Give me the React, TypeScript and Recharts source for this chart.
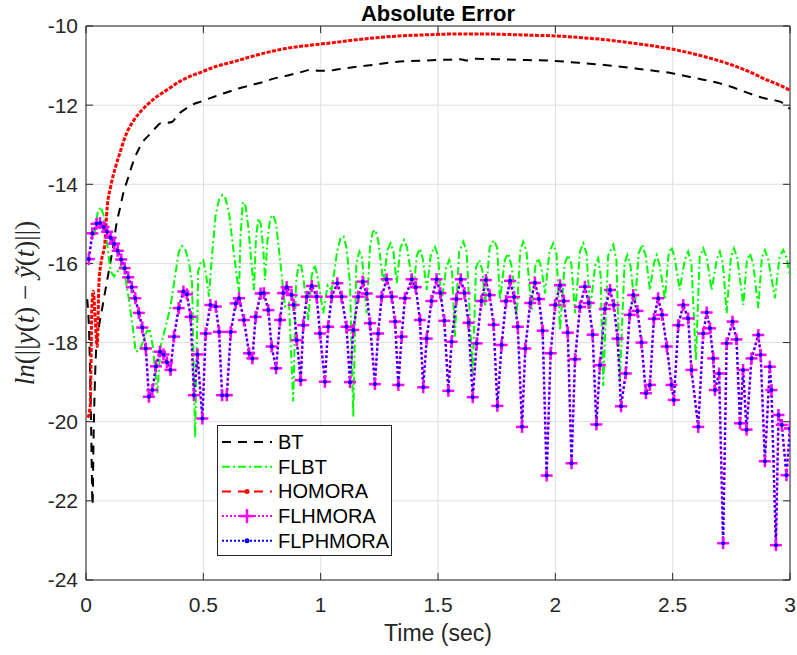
import { LineChart, Line, XAxis, YAxis, CartesianGrid, ReferenceArea, ReferenceLine, Label } from "recharts"

const xTicks = [0, 0.5, 1, 1.5, 2, 2.5, 3]
const yTicks = [-24, -22, -20, -18, -16, -14, -12, -10]

// BT
const btT = [
	0.005, 0.013, 0.022, 0.028, 0.032, 0.037, 0.045, 0.055, 0.07, 0.085,
	0.1, 0.115, 0.13, 0.145, 0.16, 0.176, 0.204, 0.24, 0.276, 0.3,
	0.318, 0.345, 0.368, 0.39, 0.418, 0.45, 0.489, 0.54, 0.588, 0.65,
	0.7, 0.758, 0.8, 0.86, 0.92, 0.954, 0.99, 1.026, 1.1, 1.2,
	1.338, 1.45, 1.55, 1.594, 1.62, 1.66, 1.764, 1.88, 1.991, 2.1,
	2.219, 2.35, 2.502, 2.6, 2.701, 2.78, 2.843, 2.9, 2.928, 2.96,
	2.985, 3.0,
]
const btY = [
	-16.9, -17.7, -20.2, -22.1, -20.5, -19.2, -18.0, -17.6, -17.1, -16.6,
	-16.1, -15.6, -15.0, -14.6, -14.2, -13.9, -13.39, -12.95, -12.71, -12.55,
	-12.46, -12.45, -12.42, -12.25, -12.12, -12.0, -11.91, -11.8, -11.7, -11.58,
	-11.5, -11.41, -11.33, -11.25, -11.16, -11.11, -11.13, -11.13, -11.07, -11.0,
	-10.9, -10.87, -10.85, -10.84, -10.87, -10.83, -10.84, -10.86, -10.88, -10.93,
	-10.99, -11.08, -11.2, -11.32, -11.45, -11.6, -11.74, -11.84, -11.87, -11.92,
	-12.02, -12.1,
]

// FLBT
const flbtT = [
	0.035, 0.05, 0.063, 0.076, 0.09, 0.105, 0.12, 0.135, 0.15, 0.165,
	0.18, 0.197, 0.212, 0.228, 0.245, 0.26, 0.272, 0.285, 0.304, 0.318,
	0.339, 0.36, 0.38, 0.395, 0.408, 0.422, 0.438, 0.452, 0.465, 0.478,
	0.49, 0.5, 0.512, 0.524, 0.537, 0.552, 0.567, 0.581, 0.595, 0.61,
	0.625, 0.652, 0.658, 0.668, 0.68, 0.692, 0.705, 0.716, 0.724, 0.734,
	0.745, 0.755, 0.763, 0.772, 0.785, 0.798, 0.81, 0.825, 0.848, 0.865,
	0.883, 0.895, 0.905, 0.915, 0.927, 0.947, 0.962, 0.974, 0.986, 1.011,
	1.03, 1.047, 1.07, 1.085, 1.098, 1.11, 1.125, 1.139, 1.152, 1.165,
	1.176, 1.196, 1.21, 1.222, 1.234, 1.246, 1.267, 1.285, 1.298, 1.31,
	1.324, 1.34, 1.355, 1.368, 1.395, 1.41, 1.423, 1.436, 1.452, 1.47,
	1.487, 1.5, 1.515, 1.535, 1.548, 1.56, 1.572, 1.59, 1.608, 1.622,
	1.648, 1.662, 1.676, 1.69, 1.7, 1.72, 1.738, 1.752, 1.764, 1.785,
	1.8, 1.815, 1.835, 1.85, 1.863, 1.877, 1.899, 1.915, 1.927, 1.94,
	1.956, 1.975, 1.991, 2.005, 2.02, 2.04, 2.055, 2.068, 2.084, 2.105,
	2.119, 2.133, 2.148, 2.17, 2.183, 2.193, 2.204, 2.225, 2.247, 2.26,
	2.275, 2.295, 2.307, 2.32, 2.339, 2.355, 2.37, 2.385, 2.403, 2.42,
	2.432, 2.445, 2.467, 2.482, 2.495, 2.508, 2.53, 2.552, 2.566, 2.58,
	2.599, 2.615, 2.63, 2.645, 2.666, 2.688, 2.701, 2.714, 2.73, 2.748,
	2.761, 2.775, 2.801, 2.816, 2.829, 2.843, 2.865, 2.88, 2.893, 2.907,
	2.936, 2.955, 2.971, 2.985, 3.0,
]
const flbtY = [
	-15.3, -14.7, -14.57, -14.8, -15.5, -16.2, -16.33, -16.2, -16.05, -16.25,
	-16.8, -17.51, -18.23, -18.2, -17.95, -17.7, -17.7, -18.1, -19.28, -18.1,
	-17.6, -17.1, -16.3, -15.72, -15.56, -15.62, -15.95, -16.5, -20.4, -16.2,
	-15.95, -15.92, -16.3, -16.84, -15.8, -14.8, -14.38, -14.27, -14.36, -14.75,
	-15.5, -16.76, -15.4, -14.45, -14.55, -15.1, -16.0, -16.67, -15.4, -14.86,
	-15.0, -15.6, -16.42, -15.5, -14.85, -14.78, -15.0, -15.8, -17.09, -17.0,
	-19.49, -16.5, -16.05, -16.0, -16.4, -17.43, -16.3, -16.04, -16.3, -17.26,
	-16.55, -16.67, -15.7, -15.35, -15.32, -15.6, -16.5, -19.87, -16.0, -15.7,
	-15.85, -17.26, -15.6, -15.2, -15.16, -15.45, -16.5, -15.65, -15.49, -15.7,
	-16.5, -15.6, -15.41, -15.6, -16.67, -15.8, -15.62, -15.9, -16.67, -15.75,
	-15.58, -15.8, -17.0, -16.1, -15.91, -16.2, -17.85, -15.7, -15.45, -15.7,
	-18.8, -16.1, -15.91, -16.2, -17.09, -15.6, -15.41, -15.6, -16.92, -15.9,
	-15.75, -16.1, -17.35, -15.7, -15.45, -15.7, -17.18, -16.05, -15.87, -16.1,
	-16.76, -15.7, -15.49, -15.75, -17.68, -16.0, -15.79, -16.0, -17.26, -15.7,
	-15.49, -15.75, -17.18, -16.05, -15.87, -16.3, -19.1, -15.8, -15.53, -15.9,
	-18.95, -16.0, -15.79, -16.05, -17.09, -15.75, -15.52, -15.8, -16.67, -16.0,
	-15.79, -16.05, -16.92, -15.8, -15.58, -15.85, -16.67, -15.9, -15.7, -16.0,
	-18.44, -15.85, -15.62, -15.85, -16.67, -15.9, -15.7, -16.0, -17.26, -15.85,
	-15.62, -15.85, -17.05, -15.95, -15.75, -16.0, -17.13, -15.85, -15.66, -15.9,
	-16.88, -15.85, -15.66, -15.85, -16.33,
]

// HOMORA
const homoraT = [
	0.008, 0.018, 0.025, 0.031, 0.04, 0.048, 0.055, 0.065, 0.08, 0.09,
	0.105, 0.126, 0.145, 0.162, 0.18, 0.204, 0.23, 0.276, 0.31, 0.344,
	0.4, 0.44, 0.489, 0.55, 0.631, 0.7, 0.77, 0.85, 0.95, 1.054,
	1.15, 1.25, 1.338, 1.42, 1.508, 1.6, 1.7, 1.764, 1.88, 1.998,
	2.1, 2.219, 2.3, 2.4, 2.502, 2.6, 2.687, 2.75, 2.8, 2.843,
	2.9, 2.95, 3.0,
]
const homoraY = [
	-19.9, -19.6, -17.1, -16.7, -17.5, -18.1, -16.5, -15.95, -15.5, -14.6,
	-14.06, -13.56, -13.2, -12.88, -12.62, -12.38, -12.18, -11.91, -11.75, -11.62,
	-11.4, -11.28, -11.17, -11.03, -10.9, -10.78, -10.67, -10.57, -10.49, -10.42,
	-10.35, -10.29, -10.25, -10.23, -10.21, -10.2, -10.2, -10.21, -10.23, -10.25,
	-10.29, -10.35, -10.41, -10.49, -10.59, -10.72, -10.86, -10.98, -11.09, -11.2,
	-11.36, -11.48, -11.62,
]

// FLHMORA (FLPHMORA lies on top of it)
const flhmoraT = [
	0.012, 0.027, 0.045, 0.06, 0.075, 0.09, 0.105, 0.12, 0.135, 0.15,
	0.165, 0.18, 0.195, 0.21, 0.225, 0.24, 0.255, 0.268, 0.283, 0.298,
	0.315, 0.33, 0.345, 0.36, 0.375, 0.395, 0.415, 0.43, 0.446, 0.46,
	0.475, 0.496, 0.51, 0.53, 0.553, 0.567, 0.58, 0.6, 0.617, 0.638,
	0.652, 0.673, 0.695, 0.709, 0.723, 0.744, 0.758, 0.777, 0.791, 0.81,
	0.827, 0.84, 0.855, 0.876, 0.885, 0.898, 0.915, 0.926, 0.941, 0.962,
	0.983, 0.997, 1.018, 1.032, 1.047, 1.071, 1.089, 1.11, 1.125, 1.139,
	1.16, 1.179, 1.196, 1.21, 1.231, 1.245, 1.26, 1.281, 1.303, 1.317,
	1.331, 1.345, 1.359, 1.388, 1.405, 1.423, 1.437, 1.452, 1.472, 1.494,
	1.51, 1.527, 1.544, 1.558, 1.578, 1.597, 1.613, 1.63, 1.648, 1.665,
	1.685, 1.704, 1.72, 1.737, 1.753, 1.771, 1.79, 1.807, 1.824, 1.84,
	1.858, 1.872, 1.893, 1.913, 1.93, 1.946, 1.963, 1.98, 1.999, 2.02,
	2.036, 2.053, 2.069, 2.084, 2.105, 2.126, 2.142, 2.159, 2.175, 2.19,
	2.211, 2.233, 2.249, 2.265, 2.28, 2.3, 2.317, 2.332, 2.35, 2.367,
	2.386, 2.403, 2.42, 2.438, 2.455, 2.475, 2.495, 2.505, 2.524, 2.545,
	2.566, 2.58, 2.609, 2.63, 2.645, 2.659, 2.673, 2.68, 2.698, 2.715,
	2.73, 2.755, 2.772, 2.787, 2.8, 2.815, 2.836, 2.865, 2.875, 2.893,
	2.914, 2.921, 2.94, 2.951, 2.965, 2.985, 3.0,
]
const flhmoraY = [
	-15.89, -15.24, -15.0, -14.98, -15.08, -15.2, -15.35, -15.5, -15.68, -15.9,
	-16.12, -16.35, -16.6, -16.88, -17.25, -17.62, -18.15, -19.37, -19.2, -18.6,
	-18.23, -18.3, -18.5, -18.69, -17.85, -17.13, -16.71, -16.78, -17.35, -19.33,
	-18.3, -19.92, -17.77, -17.05, -17.09, -17.73, -19.33, -19.33, -17.73, -17.01,
	-16.88, -17.43, -18.27, -18.4, -17.35, -16.76, -16.75, -17.18, -18.1, -18.65,
	-17.43, -16.75, -16.6, -16.8, -17.05, -17.94, -18.95, -17.56, -16.84, -16.57,
	-16.84, -17.77, -18.99, -17.6, -16.84, -16.5, -16.84, -17.6, -19.0, -17.68,
	-16.84, -16.46, -16.76, -17.51, -19.05, -17.77, -16.84, -16.4, -16.84, -17.47,
	-19.07, -17.85, -16.88, -16.4, -16.6, -17.43, -19.13, -17.9, -16.95, -16.4,
	-16.75, -17.45, -19.22, -17.98, -16.9, -16.4, -16.75, -17.5, -19.38, -18.02,
	-16.95, -16.42, -16.8, -17.55, -19.6, -18.06, -16.95, -16.44, -16.85, -17.6,
	-20.13, -18.15, -17.0, -16.49, -16.9, -17.7, -21.36, -18.27, -17.05, -16.55,
	-16.95, -17.75, -21.05, -18.42, -17.1, -16.59, -17.0, -17.8, -20.07, -18.57,
	-17.15, -16.67, -17.05, -17.9, -19.61, -18.78, -17.3, -16.8, -17.2, -18.0,
	-19.28, -19.07, -17.4, -16.88, -17.3, -18.1, -19.07, -19.45, -17.56, -17.05,
	-17.39, -18.69, -20.13, -17.77, -17.24, -17.64, -18.4, -19.2, -18.78, -23.07,
	-18.02, -17.47, -17.92, -20.04, -18.69, -20.2, -18.4, -17.81, -18.31, -21.0,
	-18.61, -19.2, -23.12, -19.83, -20.08, -21.35, -20.17,
]
const flphmoraT = flhmoraT
const flphmoraY = flhmoraY

const toRows = (t: number[], y: number[]) => t.map((v, i) => ({ t: v, y: y[i] }))

const sans = "'Liberation Sans', Arial, Helvetica, sans-serif"
const axisColor = "#262626"

function PlusDot(props: any) {
	const { cx, cy, index } = props
	if (cx == null || cy == null) return null
	return (
		<g key={`plus-${index}`}>
			<line x1={cx - 6} x2={cx + 6} y1={cy} y2={cy} stroke="#ff00ff" strokeWidth={2.5} />
			<line x1={cx} x2={cx} y1={cy - 6} y2={cy + 6} stroke="#ff00ff" strokeWidth={2.5} />
		</g>
	)
}

const legendItems = [
	{ name: "BT", color: "#000000", dash: "9 7", marker: "none" },
	{ name: "FLBT", color: "#00ff00", dash: "8 3 2 3", marker: "none" },
	{ name: "HOMORA", color: "#ff0000", dash: "9 7", marker: "dot" },
	{ name: "FLHMORA", color: "#ff00ff", dash: "2 2", marker: "plus" },
	{ name: "FLPHMORA", color: "#0000ff", dash: "2 2", marker: "dot" },
]

export default function App() {
	return (
		<div style={{ position: "absolute", left: 0, top: 0, width: 797, height: 655, background: "#fff" }}>
			<LineChart width={797} height={655} margin={{ top: 26, right: 7, bottom: 0, left: 0 }}>
				<CartesianGrid stroke="#dfdfdf" />
				<XAxis
					type="number"
					dataKey="t"
					domain={[0, 3]}
					ticks={xTicks}
					allowDataOverflow
					height={75}
					tickLine={false}
					axisLine={false}
					tickMargin={11}
					tick={{ fill: axisColor, fontSize: 21, fontFamily: sans }}
				>
					<Label value="Time (sec)" position="insideBottom" offset={14} fill={axisColor} fontSize={23} fontFamily={sans} />
				</XAxis>
				<YAxis
					type="number"
					domain={[-24, -10]}
					ticks={yTicks}
					allowDataOverflow
					width={86}
					tickLine={false}
					axisLine={false}
					tick={{ fill: axisColor, fontSize: 21, fontFamily: sans }}
				/>
				<Line data={toRows(btT, btY)} dataKey="y" type="monotone" stroke="#000000" strokeWidth={2} strokeDasharray="9 7" dot={false} isAnimationActive={false} />
				<Line data={toRows(flbtT, flbtY)} dataKey="y" type="linear" stroke="#00ff00" strokeWidth={2} strokeDasharray="8 3 2 3" dot={false} isAnimationActive={false} />
				<Line data={toRows(homoraT, homoraY)} dataKey="y" type="monotone" stroke="#ff0000" strokeWidth={3} strokeDasharray="4 1.5" dot={false} isAnimationActive={false} />
				<Line data={toRows(flhmoraT, flhmoraY)} dataKey="y" type="linear" stroke="#ff00ff" strokeWidth={2.5} strokeDasharray="3 2" dot={PlusDot} activeDot={false} isAnimationActive={false} />
				<Line data={toRows(flphmoraT, flphmoraY)} dataKey="y" type="linear" stroke="#0000ff" strokeWidth={2} strokeDasharray="2 3" dot={{ r: 2, fill: "#0000ff", stroke: "none" }} activeDot={false} isAnimationActive={false} />
				<ReferenceArea x1={0} x2={3} y1={-24} y2={-10} fill="none" stroke={axisColor} strokeWidth={1} ifOverflow="visible" />
				{xTicks.map((v) => (
					<ReferenceLine key={`xb${v}`} segment={[{ x: v, y: -24 }, { x: v, y: -23.82 }]} stroke={axisColor} ifOverflow="visible" />
				))}
				{xTicks.map((v) => (
					<ReferenceLine key={`xt${v}`} segment={[{ x: v, y: -10 }, { x: v, y: -10.18 }]} stroke={axisColor} ifOverflow="visible" />
				))}
				{yTicks.map((v) => (
					<ReferenceLine key={`yl${v}`} segment={[{ x: 0, y: v }, { x: 0.03, y: v }]} stroke={axisColor} ifOverflow="visible" />
				))}
				{yTicks.map((v) => (
					<ReferenceLine key={`yr${v}`} segment={[{ x: 2.97, y: v }, { x: 3, y: v }]} stroke={axisColor} ifOverflow="visible" />
				))}
			</LineChart>
			<svg width={797} height={655} style={{ position: "absolute", left: 0, top: 0, pointerEvents: "none" }}>
				<text x={438} y={21} textAnchor="middle" fontFamily={sans} fontWeight="bold" fontSize={22} fill="#000">
					Absolute Error
				</text>
				<text
					transform="translate(34,303) rotate(-90)"
					textAnchor="middle"
					fontFamily="'Liberation Serif', 'Times New Roman', serif"
					fontSize={27}
					fill={axisColor}
				>
					<tspan fontStyle="italic">ln</tspan>
					<tspan>(||</tspan>
					<tspan fontStyle="italic">y</tspan>
					<tspan>(</tspan>
					<tspan fontStyle="italic">t</tspan>
					<tspan>) − </tspan>
					<tspan fontStyle="italic">ỹ</tspan>
					<tspan>(</tspan>
					<tspan fontStyle="italic">t</tspan>
					<tspan>)||)</tspan>
				</text>
				<rect x={217.5} y={425.5} width={174} height={130} fill="#fff" stroke={axisColor} strokeWidth={1} />
				{legendItems.map((it, i) => {
					const cy = 442 + i * 24.7
					return (
						<g key={it.name}>
							<line x1={222} x2={272} y1={cy} y2={cy} stroke={it.color} strokeWidth={2} strokeDasharray={it.dash} />
							{it.marker === "dot" && <circle cx={247} cy={cy} r={2.5} fill={it.color} />}
							{it.marker === "plus" && (
								<g>
									<line x1={240} x2={254} y1={cy} y2={cy} stroke={it.color} strokeWidth={2.5} />
									<line x1={247} x2={247} y1={cy - 7} y2={cy + 7} stroke={it.color} strokeWidth={2.5} />
								</g>
							)}
							<text x={278} y={cy + 7} fontFamily={sans} fontSize={20} fill="#000">
								{it.name}
							</text>
						</g>
					)
				})}
			</svg>
		</div>
	)
}
